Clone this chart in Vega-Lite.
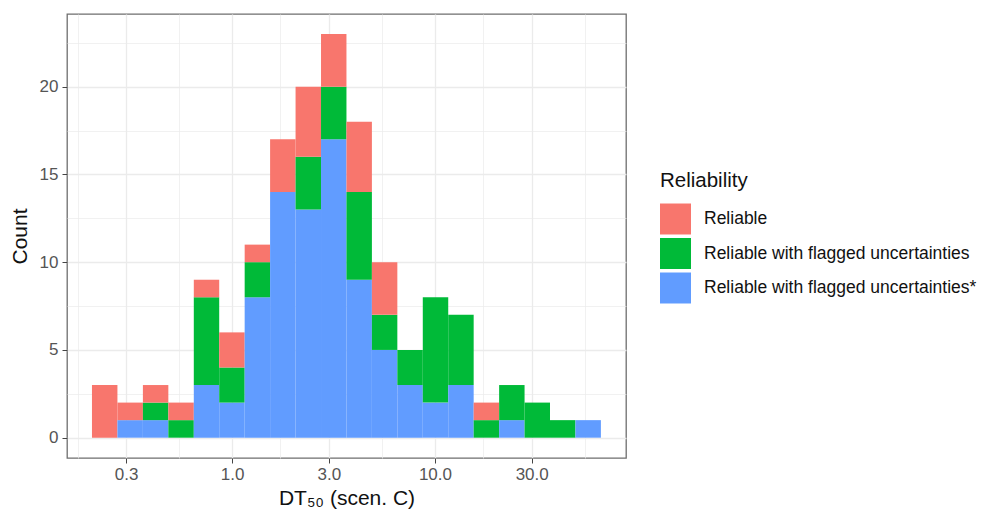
{
  "$schema": "https://vega.github.io/schema/vega-lite/v6.json",
  "autosize": {"type": "none"},
  "padding": {"left": 67, "top": 14, "right": 361, "bottom": 55},
  "width": 559,
  "height": 444,
  "background": "white",
  "config": {
    "font": "Liberation Sans",
    "view": {"stroke": "#6e6e6e", "strokeWidth": 1.3},
    "axis": {
      "domain": false,
      "gridColor": "#ebebeb",
      "tickColor": "#444444",
      "tickSize": 5,
      "labelColor": "#555555",
      "labelFont": "Liberation Sans",
      "labelFontSize": 17,
      "titleFont": "Liberation Sans",
      "titleFontSize": 21,
      "titleFontWeight": "normal",
      "titleColor": "#111111"
    }
  },
  "data": {
    "values": [
      {"lo": 0.2038, "hi": 0.2721, "reliability": "Reliable", "count": 3},
      {"lo": 0.2721, "hi": 0.3633, "reliability": "Reliable with flagged uncertainties*", "count": 1},
      {"lo": 0.2721, "hi": 0.3633, "reliability": "Reliable", "count": 1},
      {"lo": 0.3633, "hi": 0.4850, "reliability": "Reliable with flagged uncertainties*", "count": 1},
      {"lo": 0.3633, "hi": 0.4850, "reliability": "Reliable with flagged uncertainties", "count": 1},
      {"lo": 0.3633, "hi": 0.4850, "reliability": "Reliable", "count": 1},
      {"lo": 0.4850, "hi": 0.6475, "reliability": "Reliable with flagged uncertainties", "count": 1},
      {"lo": 0.4850, "hi": 0.6475, "reliability": "Reliable", "count": 1},
      {"lo": 0.6475, "hi": 0.8640, "reliability": "Reliable with flagged uncertainties*", "count": 3},
      {"lo": 0.6475, "hi": 0.8640, "reliability": "Reliable with flagged uncertainties", "count": 5},
      {"lo": 0.6475, "hi": 0.8640, "reliability": "Reliable", "count": 1},
      {"lo": 0.8640, "hi": 1.1535, "reliability": "Reliable with flagged uncertainties*", "count": 2},
      {"lo": 0.8640, "hi": 1.1535, "reliability": "Reliable with flagged uncertainties", "count": 2},
      {"lo": 0.8640, "hi": 1.1535, "reliability": "Reliable", "count": 2},
      {"lo": 1.1535, "hi": 1.5396, "reliability": "Reliable with flagged uncertainties*", "count": 8},
      {"lo": 1.1535, "hi": 1.5396, "reliability": "Reliable with flagged uncertainties", "count": 2},
      {"lo": 1.1535, "hi": 1.5396, "reliability": "Reliable", "count": 1},
      {"lo": 1.5396, "hi": 2.0557, "reliability": "Reliable with flagged uncertainties*", "count": 14},
      {"lo": 1.5396, "hi": 2.0557, "reliability": "Reliable", "count": 3},
      {"lo": 2.0557, "hi": 2.7443, "reliability": "Reliable with flagged uncertainties*", "count": 13},
      {"lo": 2.0557, "hi": 2.7443, "reliability": "Reliable with flagged uncertainties", "count": 3},
      {"lo": 2.0557, "hi": 2.7443, "reliability": "Reliable", "count": 4},
      {"lo": 2.7443, "hi": 3.6632, "reliability": "Reliable with flagged uncertainties*", "count": 17},
      {"lo": 2.7443, "hi": 3.6632, "reliability": "Reliable with flagged uncertainties", "count": 3},
      {"lo": 2.7443, "hi": 3.6632, "reliability": "Reliable", "count": 3},
      {"lo": 3.6632, "hi": 4.8898, "reliability": "Reliable with flagged uncertainties*", "count": 9},
      {"lo": 3.6632, "hi": 4.8898, "reliability": "Reliable with flagged uncertainties", "count": 5},
      {"lo": 3.6632, "hi": 4.8898, "reliability": "Reliable", "count": 4},
      {"lo": 4.8898, "hi": 6.5269, "reliability": "Reliable with flagged uncertainties*", "count": 5},
      {"lo": 4.8898, "hi": 6.5269, "reliability": "Reliable with flagged uncertainties", "count": 2},
      {"lo": 4.8898, "hi": 6.5269, "reliability": "Reliable", "count": 3},
      {"lo": 6.5269, "hi": 8.7128, "reliability": "Reliable with flagged uncertainties*", "count": 3},
      {"lo": 6.5269, "hi": 8.7128, "reliability": "Reliable with flagged uncertainties", "count": 2},
      {"lo": 8.7128, "hi": 11.630, "reliability": "Reliable with flagged uncertainties*", "count": 2},
      {"lo": 8.7128, "hi": 11.630, "reliability": "Reliable with flagged uncertainties", "count": 6},
      {"lo": 11.630, "hi": 15.524, "reliability": "Reliable with flagged uncertainties*", "count": 3},
      {"lo": 11.630, "hi": 15.524, "reliability": "Reliable with flagged uncertainties", "count": 4},
      {"lo": 15.524, "hi": 20.727, "reliability": "Reliable with flagged uncertainties", "count": 1},
      {"lo": 15.524, "hi": 20.727, "reliability": "Reliable", "count": 1},
      {"lo": 20.727, "hi": 27.664, "reliability": "Reliable with flagged uncertainties*", "count": 1},
      {"lo": 20.727, "hi": 27.664, "reliability": "Reliable with flagged uncertainties", "count": 2},
      {"lo": 27.664, "hi": 36.93, "reliability": "Reliable with flagged uncertainties", "count": 2},
      {"lo": 36.93, "hi": 49.29, "reliability": "Reliable with flagged uncertainties", "count": 1},
      {"lo": 49.29, "hi": 65.80, "reliability": "Reliable with flagged uncertainties*", "count": 1}
    ]
  },
  "transform": [
    {
      "stack": "count",
      "groupby": ["lo"],
      "sort": [{"field": "reliability", "order": "descending"}],
      "as": ["y0", "y1"]
    }
  ],
  "mark": {"type": "rect", "strokeWidth": 0},
  "encoding": {
    "x": {
      "field": "lo",
      "type": "quantitative",
      "scale": {"type": "log", "domain": [0.1535, 87.5], "nice": false},
      "axis": {
        "title": "DT₅₀ (scen. C)",
        "values": [0.1732, 0.3, 0.5477, 1, 1.732, 3, 5.477, 10, 17.32, 30, 54.77],
        "labelExpr": "indexof([0.3,1,3,10,30], datum.value) >= 0 ? format(datum.value, '.1f') : ''",
        "labelFlush": false,
        "labelOverlap": false,
        "labelPadding": 3,
        "titlePadding": 5,
        "gridWidth": {"condition": {"test": "indexof([0.3,1,3,10,30], datum.value) >= 0", "value": 1.3}, "value": 0.7},
        "tickOpacity": {"condition": {"test": "indexof([0.3,1,3,10,30], datum.value) >= 0", "value": 1}, "value": 0}
      }
    },
    "x2": {"field": "hi"},
    "y": {
      "field": "y0",
      "type": "quantitative",
      "scale": {"domain": [-1.157, 24.14], "nice": false, "zero": false},
      "axis": {
        "title": "Count",
        "values": [0, 2.5, 5, 7.5, 10, 12.5, 15, 17.5, 20, 22.5],
        "labelExpr": "datum.value % 5 == 0 ? datum.value : ''",
        "labelPadding": 4,
        "titlePadding": 9,
        "gridWidth": {"condition": {"test": "datum.value % 5 == 0", "value": 1.3}, "value": 0.7},
        "tickOpacity": {"condition": {"test": "datum.value % 5 == 0", "value": 1}, "value": 0}
      }
    },
    "y2": {"field": "y1"},
    "color": {
      "field": "reliability",
      "type": "nominal",
      "scale": {
        "domain": ["Reliable", "Reliable with flagged uncertainties", "Reliable with flagged uncertainties*"],
        "range": ["#F8766D", "#00BA38", "#619CFF"]
      },
      "legend": {
        "title": "Reliability",
        "orient": "none",
        "legendX": 593,
        "legendY": 157,
        "titleFontSize": 20.5,
        "titleFontWeight": "normal",
        "titleColor": "#111111",
        "titlePadding": 12,
        "symbolType": "square",
        "symbolSize": 961,
        "symbolStrokeWidth": 0,
        "symbolOpacity": 1,
        "labelFontSize": 17.5,
        "labelColor": "#111111",
        "labelOffset": 13,
        "labelLimit": 400,
        "rowPadding": 3.5
      }
    }
  }
}
